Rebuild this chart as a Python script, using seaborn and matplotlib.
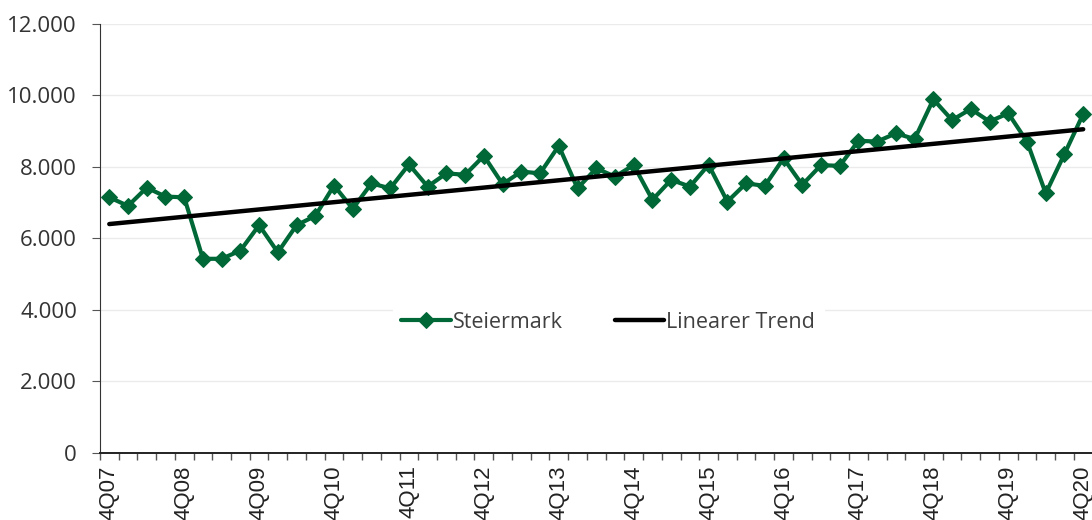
import numpy as np
import pandas as pd
import matplotlib
matplotlib.use("Agg")
import matplotlib.pyplot as plt
import matplotlib.ticker as mticker
import seaborn as sns

# ============================================================
# DATA (quarterly values, 4Q07 .. 4Q20)
# ============================================================

steiermark = [
    7150, 6910, 7420, 7170, 7150, 5430, 5430, 5660, 6370, 5610,
    6370, 6630, 7480, 6830, 7540, 7400, 8070, 7450, 7820, 7780,
    8310, 7520, 7870, 7820, 8590, 7400, 7960, 7730, 8050, 7080,
    7640, 7450, 8060, 7030, 7540, 7470, 8240, 7500, 8050, 8030,
    8730, 8710, 8940, 8780, 9890, 9310, 9620, 9270, 9500, 8710,
    7260, 8360, 9480,
]

tick_labels = ["4Q07", "4Q08", "4Q09", "4Q10", "4Q11", "4Q12", "4Q13",
               "4Q14", "4Q15", "4Q16", "4Q17", "4Q18", "4Q19", "4Q20"]

green = "#006837"

# ============================================================
# TREND
# ============================================================

x = np.arange(len(steiermark))
slope, intercept = np.polyfit(x, steiermark, 1)

df = pd.DataFrame({
    "x": x,
    "Steiermark": steiermark,
    "Linearer Trend": slope * x + intercept,
})

# ============================================================
# PLOT
# ============================================================

sns.set_style("white")
plt.rcParams["font.family"] = ["Liberation Sans", "DejaVu Sans"]

fig = plt.figure(figsize=(10.92, 5.2), dpi=100)
ax = fig.add_axes([0.0915, 0.129, 0.909, 0.825])

sns.lineplot(data=df, x="x", y="Steiermark", ax=ax, color=green,
             linewidth=3, marker="D", markersize=8.5, markeredgecolor=green,
             label="Steiermark", zorder=3)
sns.lineplot(data=df, x="x", y="Linearer Trend", ax=ax, color="black",
             linewidth=3.2, label="Linearer Trend", zorder=4)

ax.set_xlim(-0.5, len(steiermark) - 0.5)
ax.set_ylim(0, 12000)

ax.yaxis.set_major_locator(mticker.MultipleLocator(2000))
ax.yaxis.set_major_formatter(
    mticker.FuncFormatter(lambda v, p: f"{int(v):,}".replace(",", ".")))
ax.grid(axis="y", color="#ebebeb", linewidth=1)
ax.set_axisbelow(True)

ax.set_xticks(x[::4])
ax.set_xticklabels(tick_labels, rotation=90, fontsize=16)
ax.set_xticks(np.arange(-0.5, len(steiermark)), minor=True)
ax.tick_params(axis="x", which="major", length=0, pad=9,
               labelcolor="#222222")
ax.tick_params(axis="x", which="minor", bottom=True, length=5,
               color="#555555", width=1)
ax.tick_params(axis="y", left=True, length=5.5, color="#555555",
               labelsize=16, labelcolor="#333333", pad=11)
for lbl in ax.get_yticklabels():
    lbl.set_fontfamily(["Open Sans", "DejaVu Sans"])

ax.set_xlabel("")
ax.set_ylabel("")

for side in ["top", "right"]:
    ax.spines[side].set_visible(False)
ax.spines["left"].set_color("#333333")
ax.spines["bottom"].set_color("#222222")
ax.spines["bottom"].set_linewidth(1.4)

leg = ax.legend(loc="center", bbox_to_anchor=(0.512, 0.305), ncol=2,
                frameon=True, fancybox=False, edgecolor="white",
                facecolor="white", framealpha=1,
                handlelength=2.3, handletextpad=0.1, columnspacing=2.4,
                prop={"family": "Open Sans", "size": 15.5})
for t in leg.get_texts():
    t.set_color("#404040")
leg.set_zorder(5)

plt.savefig("out.png", dpi=100)
